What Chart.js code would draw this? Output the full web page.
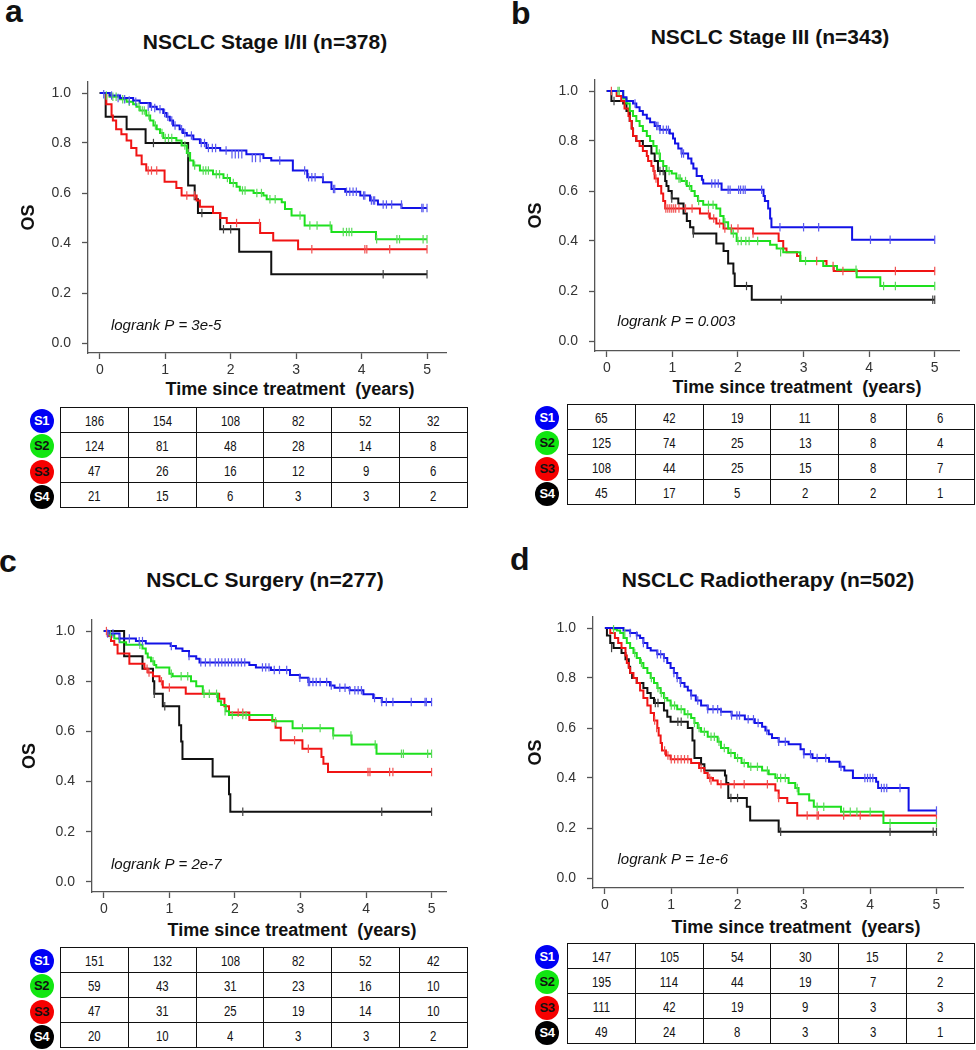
<!DOCTYPE html>
<html>
<head>
<meta charset="utf-8">
<script src="https://cdn.jsdelivr.net/npm/chart.js@4/dist/chart.umd.min.js"></script>
<style>
body { margin: 0; background: #fff; }
#page { position: relative; width: 976px; height: 1050px; overflow: hidden; font-family: Arial, "Liberation Sans", sans-serif; color: #111; }
.abs { position: absolute; white-space: nowrap; }
.letter { font-size: 32px; font-weight: bold; line-height: 32px; }
.ptitle { font-size: 21px; font-weight: bold; line-height: 24px; width: 400px; text-align: center; }
.xtitle { font-size: 18px; font-weight: bold; line-height: 22px; width: 400px; text-align: center; }
canvas { position: absolute; }
table.risk { position: absolute; border-collapse: collapse; table-layout: fixed; width: 408px; }
table.risk td { border: 1.5px solid #111; height: 24px; padding: 0; text-align: center; font-family: Arial, "Liberation Sans", sans-serif; font-size: 15px; color: #111; }
table.risk td span { display: inline-block; transform: scaleX(0.76); }
.badge { position: absolute; width: 24px; height: 24px; border-radius: 50%; font-weight: bold; font-size: 13px; line-height: 24px; text-align: center; letter-spacing: -0.5px; }
</style>
</head>
<body>
<div id="page"></div>
<script>
const FONT = 'Arial, "Liberation Sans", sans-serif';

// groups
const groupNames = ['S1', 'S2', 'S3', 'S4'];
const lineColors = ['#1212e6', '#1ee01e', '#f01414', '#111111'];
const tickColors = ['#5a5aee', '#5ad85a', '#f05050', '#444444'];
const badgeColors = ['#0000f5', '#11e611', '#f50000', '#000000'];
const badgeText = ['#fff', '#111', '#111', '#fff'];
const xTickVals = [0, 1, 2, 3, 4, 5];
const yTickVals = [0, 0.2, 0.4, 0.6, 0.8, 1.0];
const xTitle = 'Time since treatment  (years)';

// ---- panel a: Stage I/II
const aTitle = 'NSCLC Stage I/II (n=378)';
const aP = 'logrank P = 3e-5';
const aS1 = [[0,1],[0.15,0.99],[0.31,0.98],[0.51,0.97],[0.61,0.96],[0.77,0.945],[0.87,0.935],[0.97,0.92],[1.02,0.905],[1.07,0.89],[1.12,0.87],[1.22,0.855],[1.27,0.84],[1.33,0.83],[1.43,0.815],[1.53,0.80],[1.63,0.78],[1.84,0.77],[2.24,0.755],[2.50,0.74],[2.62,0.73],[2.95,0.69],[3.17,0.663],[3.41,0.643],[3.54,0.616],[3.75,0.605],[3.98,0.59],[4.13,0.57],[4.25,0.554],[4.61,0.54],[5,0.54]];
const aS2 = [[0,1],[0.15,0.985],[0.31,0.975],[0.41,0.965],[0.51,0.955],[0.56,0.945],[0.61,0.93],[0.71,0.91],[0.77,0.89],[0.82,0.87],[0.87,0.855],[0.92,0.84],[0.97,0.82],[1.17,0.81],[1.25,0.79],[1.33,0.76],[1.38,0.73],[1.43,0.71],[1.53,0.69],[1.73,0.675],[1.89,0.66],[1.99,0.64],[2.09,0.625],[2.14,0.61],[2.35,0.60],[2.50,0.59],[2.55,0.575],[2.78,0.563],[2.83,0.536],[2.93,0.51],[3.13,0.47],[3.54,0.444],[4.22,0.415],[5,0.415]];
const aS3 = [[0,1],[0.10,0.955],[0.18,0.91],[0.20,0.89],[0.25,0.855],[0.33,0.835],[0.41,0.81],[0.48,0.78],[0.56,0.75],[0.64,0.715],[0.71,0.69],[0.99,0.645],[1.17,0.62],[1.25,0.59],[1.48,0.57],[1.53,0.545],[1.73,0.52],[1.84,0.50],[1.94,0.48],[2.45,0.44],[2.65,0.41],[3.03,0.375],[5,0.375]];
const aS4 = [[0,1],[0.09,0.905],[0.41,0.855],[0.70,0.80],[1.35,0.63],[1.45,0.575],[1.50,0.52],[1.84,0.455],[2.13,0.365],[2.62,0.275],[5,0.275]];
const aS1c = [[0.06,0.995],[0.18,0.99],[0.28,0.98],[0.38,0.975],[0.45,0.97],[0.55,0.965],[0.74,0.945],[0.79,0.945],[0.84,0.94],[0.92,0.935],[0.99,0.92],[1.04,0.905],[1.10,0.89],[1.15,0.87],[1.25,0.855],[1.30,0.84],[1.40,0.83],[1.55,0.80],[1.60,0.80],[1.66,0.78],[1.72,0.78],[1.77,0.78],[1.93,0.77],[2.02,0.755],[2.07,0.755],[2.12,0.755],[2.17,0.755],[2.33,0.74],[2.38,0.74],[2.45,0.74],[2.75,0.73],[3.13,0.69],[3.19,0.663],[3.24,0.663],[3.29,0.663],[3.41,0.663],[3.57,0.616],[3.59,0.616],[3.77,0.605],[3.82,0.605],[3.87,0.605],[3.92,0.605],[4.03,0.59],[4.05,0.59],[4.15,0.57],[4.18,0.57],[4.20,0.57],[4.33,0.554],[4.38,0.554],[4.46,0.554],[4.61,0.554],[4.92,0.54],[4.94,0.54],[5,0.54]];
const aS2c = [[0.10,0.99],[0.20,0.985],[0.25,0.985],[0.35,0.975],[0.45,0.965],[0.60,0.945],[0.65,0.93],[0.68,0.93],[0.75,0.91],[0.85,0.87],[0.95,0.84],[1.00,0.82],[1.05,0.82],[1.10,0.82],[1.30,0.79],[1.35,0.76],[1.45,0.71],[1.58,0.69],[1.62,0.69],[1.66,0.69],[1.78,0.675],[1.83,0.675],[1.95,0.66],[2.04,0.64],[2.18,0.61],[2.22,0.61],[2.40,0.60],[2.47,0.60],[2.60,0.575],[2.68,0.575],[3.06,0.51],[3.21,0.47],[3.32,0.47],[3.52,0.47],[3.72,0.444],[3.77,0.444],[3.81,0.444],[3.85,0.444],[4.23,0.415],[4.54,0.415],[4.58,0.415],[4.94,0.415],[5,0.415]];
const aS3c = [[0.74,0.69],[0.79,0.69],[0.87,0.69],[1.33,0.59],[1.45,0.59],[2.09,0.48],[2.44,0.48],[3.24,0.375],[4.05,0.375],[4.08,0.375],[4.43,0.375],[5,0.375]];
const aS4c = [[0.82,0.80],[1.56,0.52],[1.89,0.455],[2.00,0.455],[4.33,0.275],[5,0.275]];
const aRisk = [[186,154,108,82,52,32],[124,81,48,28,14,8],[47,26,16,12,9,6],[21,15,6,3,3,2]];

// ---- panel b: Stage III
const bTitle = 'NSCLC Stage III (n=343)';
const bP = 'logrank P = 0.003';
const bS1 = [[0,1],[0.25,0.975],[0.30,0.96],[0.40,0.95],[0.45,0.935],[0.50,0.92],[0.55,0.905],[0.61,0.89],[0.66,0.875],[0.73,0.86],[0.81,0.845],[0.96,0.83],[1.01,0.81],[1.04,0.79],[1.09,0.77],[1.14,0.75],[1.24,0.73],[1.29,0.71],[1.32,0.69],[1.37,0.66],[1.45,0.645],[1.47,0.63],[1.75,0.605],[2.39,0.58],[2.41,0.56],[2.46,0.53],[2.49,0.49],[2.51,0.455],[3.74,0.405],[5,0.405]];
const bS2 = [[0,1],[0.25,0.97],[0.30,0.95],[0.35,0.92],[0.40,0.90],[0.45,0.88],[0.50,0.86],[0.55,0.84],[0.61,0.82],[0.66,0.80],[0.71,0.78],[0.76,0.75],[0.81,0.72],[0.86,0.70],[0.91,0.68],[0.99,0.67],[1.06,0.65],[1.14,0.64],[1.22,0.62],[1.29,0.60],[1.34,0.58],[1.39,0.56],[1.47,0.545],[1.67,0.53],[1.73,0.50],[1.78,0.475],[1.85,0.45],[1.90,0.43],[1.98,0.40],[2.49,0.385],[2.59,0.37],[2.69,0.355],[2.95,0.32],[3.30,0.30],[3.51,0.285],[3.81,0.255],[4.17,0.22],[5,0.22]];
const bS3 = [[0,1],[0.15,0.98],[0.22,0.96],[0.27,0.93],[0.33,0.90],[0.35,0.88],[0.38,0.85],[0.40,0.82],[0.45,0.80],[0.50,0.78],[0.55,0.76],[0.61,0.74],[0.63,0.72],[0.68,0.70],[0.71,0.68],[0.73,0.65],[0.78,0.62],[0.83,0.59],[0.86,0.56],[0.89,0.53],[1.42,0.51],[1.57,0.49],[1.67,0.47],[1.78,0.45],[2.23,0.43],[2.62,0.40],[2.69,0.37],[2.74,0.355],[2.90,0.34],[2.95,0.32],[3.35,0.30],[3.46,0.28],[5,0.28]];
const bS4 = [[0,1],[0.07,0.96],[0.25,0.95],[0.30,0.92],[0.35,0.88],[0.38,0.85],[0.40,0.82],[0.45,0.80],[0.55,0.78],[0.68,0.75],[0.73,0.72],[0.78,0.68],[0.89,0.64],[0.91,0.62],[0.94,0.60],[0.99,0.57],[1.09,0.55],[1.17,0.51],[1.22,0.48],[1.27,0.455],[1.32,0.43],[1.67,0.39],[1.78,0.36],[1.85,0.31],[1.93,0.27],[1.95,0.22],[2.21,0.165],[5,0.165]];
const bS1c = [[0.43,0.95],[0.76,0.86],[0.78,0.86],[0.81,0.845],[0.86,0.845],[0.91,0.845],[0.94,0.845],[1.14,0.75],[1.17,0.75],[1.60,0.63],[1.65,0.63],[1.70,0.63],[1.85,0.605],[1.88,0.605],[2.01,0.605],[2.04,0.605],[2.08,0.605],[2.11,0.605],[2.36,0.605],[2.64,0.455],[3.00,0.455],[3.23,0.455],[4.02,0.405],[4.32,0.405],[5,0.405]];
const bS2c = [[0.17,1.0],[0.19,1.0],[0.80,0.75],[0.95,0.68],[1.10,0.65],[1.12,0.65],[1.20,0.64],[1.26,0.62],[1.40,0.56],[1.55,0.545],[1.62,0.545],[1.80,0.475],[1.93,0.43],[2.00,0.40],[2.05,0.40],[2.12,0.40],[2.17,0.40],[2.30,0.40],[2.65,0.355],[3.03,0.32],[3.80,0.285],[4.22,0.22],[4.40,0.22],[5,0.22]];
const bS3c = [[0.07,1.0],[0.72,0.68],[0.75,0.65],[0.90,0.53],[0.93,0.53],[0.96,0.53],[0.99,0.53],[1.02,0.53],[1.05,0.53],[1.10,0.53],[1.20,0.53],[1.30,0.53],[1.55,0.51],[1.63,0.49],[1.72,0.47],[1.80,0.45],[1.90,0.45],[2.00,0.45],[2.23,0.43],[3.20,0.32],[3.45,0.30],[3.60,0.28],[4.40,0.28],[5,0.28]];
const bS4c = [[0.11,0.96],[0.81,0.68],[0.86,0.68],[0.99,0.57],[1.32,0.43],[2.13,0.22],[2.66,0.165],[4.97,0.165],[5,0.165]];
const bRisk = [[65,42,19,11,8,6],[125,74,25,13,8,4],[108,44,25,15,8,7],[45,17,5,2,2,1]];

// ---- panel c: Surgery
const cTitle = 'NSCLC Surgery (n=277)';
const cP = 'logrank P = 2e-7';
const cS1 = [[0,1],[0.09,0.99],[0.24,0.97],[0.49,0.96],[0.64,0.95],[1.02,0.94],[1.10,0.93],[1.20,0.92],[1.30,0.90],[1.41,0.89],[1.46,0.875],[2.22,0.865],[2.32,0.855],[2.55,0.845],[2.84,0.825],[2.99,0.814],[3.12,0.797],[3.45,0.783],[3.52,0.774],[3.75,0.764],[3.96,0.748],[4.11,0.733],[4.24,0.717],[5,0.717]];
const cS2 = [[0,1],[0.09,0.985],[0.16,0.97],[0.24,0.955],[0.34,0.945],[0.59,0.93],[0.64,0.91],[0.67,0.895],[0.72,0.88],[0.77,0.865],[0.80,0.855],[1.00,0.83],[1.05,0.82],[1.33,0.80],[1.41,0.78],[1.51,0.75],[1.74,0.72],[1.79,0.705],[1.86,0.68],[1.91,0.665],[2.57,0.64],[2.88,0.613],[3.50,0.584],[3.78,0.548],[4.16,0.511],[5,0.511]];
const cS3 = [[0,1],[0.06,0.98],[0.11,0.96],[0.16,0.945],[0.21,0.91],[0.39,0.87],[0.62,0.85],[0.67,0.835],[0.75,0.82],[0.85,0.80],[0.90,0.775],[1.25,0.75],[1.76,0.73],[1.84,0.70],[1.91,0.675],[2.22,0.645],[2.62,0.615],[2.70,0.565],[3.03,0.531],[3.32,0.498],[3.35,0.471],[3.42,0.438],[5,0.438]];
const cS4 = [[0,1],[0.31,0.90],[0.59,0.85],[0.75,0.80],[0.77,0.75],[0.90,0.70],[1.15,0.625],[1.18,0.56],[1.20,0.49],[1.66,0.42],[1.91,0.35],[1.93,0.28],[5,0.28]];
const cS1c = [[0.06,0.99],[0.14,0.99],[0.24,0.97],[0.39,0.97],[0.54,0.96],[0.59,0.96],[1.03,0.94],[1.30,0.90],[1.48,0.875],[1.55,0.875],[1.62,0.875],[1.70,0.875],[1.75,0.875],[1.80,0.875],[1.85,0.875],[1.90,0.875],[1.95,0.875],[2.00,0.875],[2.05,0.875],[2.10,0.875],[2.15,0.875],[2.42,0.855],[2.47,0.855],[2.52,0.855],[2.60,0.845],[2.68,0.845],[2.79,0.845],[2.99,0.814],[3.12,0.797],[3.14,0.797],[3.19,0.797],[3.24,0.797],[3.30,0.797],[3.40,0.797],[3.47,0.783],[3.60,0.774],[3.68,0.774],[3.75,0.764],[3.83,0.764],[3.88,0.764],[3.93,0.764],[4.13,0.733],[4.24,0.717],[4.31,0.717],[4.41,0.717],[4.69,0.717],[4.90,0.717],[4.92,0.717],[5,0.717]];
const cS2c = [[0.10,0.985],[0.55,0.945],[0.75,0.88],[1.03,0.83],[1.18,0.82],[1.28,0.82],[1.53,0.75],[1.61,0.75],[1.72,0.75],[1.85,0.68],[1.96,0.665],[2.12,0.665],[2.17,0.665],[2.62,0.64],[3.03,0.613],[3.30,0.613],[3.50,0.584],[3.77,0.584],[4.14,0.548],[4.54,0.511],[4.57,0.511],[4.94,0.511],[5,0.511]];
const cS3c = [[0.04,1.0],[0.66,0.85],[0.69,0.835],[0.88,0.80],[1.00,0.775],[2.05,0.675],[2.12,0.675],[2.91,0.565],[3.12,0.531],[4.03,0.438],[4.06,0.438],[4.36,0.438],[4.41,0.438],[5,0.438]];
const cS4c = [[0.77,0.75],[0.93,0.70],[2.12,0.28],[4.24,0.28],[5,0.28]];
const cRisk = [[151,132,108,82,52,42],[59,43,31,23,16,10],[47,31,25,19,14,10],[20,10,4,3,3,2]];

// ---- panel d: Radiotherapy
const dTitle = 'NSCLC Radiotherapy (n=502)';
const dP = 'logrank P = 1e-6';
const dS1 = [[0,1],[0.28,0.99],[0.38,0.98],[0.48,0.97],[0.53,0.96],[0.58,0.94],[0.64,0.92],[0.69,0.91],[0.79,0.895],[0.89,0.88],[0.94,0.86],[0.99,0.84],[1.04,0.82],[1.09,0.80],[1.14,0.78],[1.20,0.765],[1.25,0.75],[1.30,0.73],[1.37,0.71],[1.45,0.69],[1.55,0.675],[1.75,0.665],[1.91,0.65],[2.11,0.635],[2.26,0.62],[2.37,0.605],[2.42,0.59],[2.47,0.575],[2.52,0.56],[2.62,0.545],[2.77,0.535],[2.95,0.515],[3.00,0.495],[3.13,0.48],[3.38,0.465],[3.54,0.445],[3.61,0.43],[3.74,0.40],[4.09,0.385],[4.12,0.36],[4.58,0.27],[5,0.27]];
const dS2 = [[0,1],[0.13,0.995],[0.18,0.99],[0.23,0.98],[0.28,0.96],[0.33,0.94],[0.38,0.92],[0.43,0.90],[0.48,0.88],[0.53,0.86],[0.58,0.84],[0.64,0.82],[0.69,0.80],[0.74,0.78],[0.79,0.76],[0.84,0.74],[0.89,0.72],[0.94,0.71],[0.99,0.69],[1.09,0.675],[1.20,0.655],[1.30,0.64],[1.35,0.62],[1.40,0.60],[1.45,0.585],[1.55,0.565],[1.70,0.545],[1.75,0.52],[1.86,0.50],[1.96,0.48],[2.06,0.46],[2.16,0.445],[2.37,0.43],[2.47,0.415],[2.57,0.40],[2.77,0.38],[2.87,0.36],[2.92,0.335],[3.08,0.31],[3.15,0.285],[3.56,0.265],[4.20,0.22],[5,0.22]];
const dS3 = [[0,1],[0.08,0.98],[0.15,0.96],[0.20,0.94],[0.25,0.92],[0.31,0.89],[0.33,0.86],[0.36,0.84],[0.38,0.82],[0.43,0.80],[0.48,0.78],[0.53,0.75],[0.58,0.72],[0.64,0.69],[0.69,0.66],[0.74,0.63],[0.79,0.60],[0.81,0.57],[0.84,0.54],[0.86,0.51],[0.92,0.49],[0.99,0.475],[1.30,0.46],[1.42,0.44],[1.50,0.42],[1.55,0.40],[1.63,0.39],[1.70,0.375],[2.57,0.35],[2.62,0.32],[2.75,0.30],[2.90,0.25],[5,0.25]];
const dS4 = [[0,1],[0.03,0.97],[0.08,0.94],[0.13,0.92],[0.25,0.90],[0.31,0.875],[0.36,0.845],[0.38,0.82],[0.41,0.80],[0.48,0.78],[0.58,0.76],[0.64,0.74],[0.69,0.72],[0.74,0.70],[0.89,0.67],[0.94,0.645],[0.99,0.625],[1.25,0.60],[1.32,0.55],[1.35,0.48],[1.45,0.455],[1.50,0.43],[1.81,0.41],[1.83,0.38],[1.86,0.32],[2.14,0.285],[2.19,0.23],[2.62,0.185],[5,0.185]];
const dS1c = [[0.38,0.98],[0.48,0.97],[0.58,0.94],[0.79,0.895],[0.84,0.895],[0.89,0.88],[1.04,0.82],[1.09,0.80],[1.14,0.78],[1.30,0.73],[1.40,0.71],[1.55,0.675],[1.63,0.675],[1.70,0.675],[1.75,0.665],[1.91,0.65],[1.99,0.65],[2.03,0.65],[2.16,0.635],[2.24,0.635],[2.31,0.62],[2.44,0.59],[2.62,0.545],[2.72,0.545],[3.00,0.495],[3.10,0.495],[3.20,0.48],[3.33,0.48],[3.56,0.445],[3.92,0.40],[3.96,0.40],[4.00,0.40],[4.04,0.40],[4.17,0.36],[4.21,0.36],[4.25,0.36],[4.45,0.36],[5,0.27]];
const dS2c = [[0.13,0.995],[0.30,0.98],[0.45,0.90],[0.55,0.86],[0.70,0.80],[0.80,0.76],[0.85,0.74],[0.90,0.72],[1.00,0.69],[1.05,0.69],[1.15,0.675],[1.25,0.655],[1.35,0.62],[1.42,0.60],[1.50,0.585],[1.60,0.565],[1.65,0.565],[1.72,0.545],[1.80,0.52],[1.90,0.50],[2.00,0.48],[2.10,0.46],[2.20,0.445],[2.30,0.445],[2.45,0.43],[2.60,0.40],[2.65,0.40],[2.72,0.40],[2.90,0.36],[3.20,0.285],[3.30,0.285],[3.60,0.265],[3.70,0.265],[3.80,0.265],[4.00,0.265],[4.30,0.22],[5,0.22]];
const dS3c = [[0.75,0.63],[0.78,0.60],[0.90,0.51],[0.95,0.49],[1.00,0.475],[1.05,0.475],[1.10,0.475],[1.15,0.475],[1.20,0.475],[1.25,0.475],[1.45,0.44],[1.58,0.40],[1.60,0.39],[1.75,0.375],[1.95,0.375],[2.10,0.375],[2.45,0.375],[2.62,0.32],[3.05,0.25],[3.20,0.25],[3.22,0.25],[3.60,0.25],[3.85,0.25],[5,0.25]];
const dS4c = [[0.10,0.92],[0.76,0.70],[0.80,0.70],[1.10,0.625],[1.15,0.625],[1.90,0.32],[2.00,0.32],[2.65,0.185],[4.30,0.185],[4.95,0.185],[5,0.185]];
const dRisk = [[147,105,54,30,15,2],[195,114,44,19,7,2],[111,42,19,9,3,3],[49,24,8,3,3,1]];

// layout of the four panels (pixels)
const panels = [
  { letter: 'a', lpos: [5, -5], title: aTitle, tc: [265, 30], pval: aP, pAt: [0.17, 0.068],
    curves: [aS1, aS2, aS3, aS4], cens: [aS1c, aS2c, aS3c, aS4c], risk: aRisk,
    cpos: [0, 70], yW: 88, padR: 42, xH: 37, xMax: 5.29, osPad: 18, xt: [290, 378], table: [60, 407], bx: 41.5 },
  { letter: 'b', lpos: [511, -3], title: bTitle, tc: [770, 25], pval: bP, pAt: [0.16, 0.076],
    curves: [bS1, bS2, bS3, bS4], cens: [bS1c, bS2c, bS3c, bS4c], risk: bRisk,
    cpos: [488, 68], yW: 107, padR: 17, xH: 37, xMax: 5.37, osPad: 37, xt: [797, 376], table: [567, 404], bx: 547 },
  { letter: 'c', lpos: [-1, 545], title: cTitle, tc: [265, 568], pval: cP, pAt: [0.11, 0.068],
    curves: [cS1, cS2, cS3, cS4], cens: [cS1c, cS2c, cS3c, cS4c], risk: cRisk,
    cpos: [0, 608], yW: 92, padR: 42, xH: 36, xMax: 5.22, osPad: 19, xt: [292, 919], table: [60, 947], bx: 41.5 },
  { letter: 'd', lpos: [510, 543], title: dTitle, tc: [768, 568], pval: dP, pAt: [0.19, 0.072],
    curves: [dS1, dS2, dS3, dS4], cens: [dS1c, dS2c, dS3c, dS4c], risk: dRisk,
    cpos: [488, 605], yW: 105, padR: 13, xH: 37, xMax: 5.4, osPad: 37, xt: [796, 916], table: [567, 943], bx: 547 }
];

const page = document.getElementById('page');

// logrank text inside the plot, placed in data units
const pvalPlugin = {
  id: 'pval',
  afterDatasetsDraw(chart, args, opts) {
    const { ctx, scales } = chart;
    ctx.save();
    ctx.font = 'italic 15px ' + FONT;
    ctx.fillStyle = '#111';
    ctx.textBaseline = 'middle';
    ctx.fillText(opts.text, scales.x.getPixelForValue(opts.at[0]), scales.y.getPixelForValue(opts.at[1]));
    ctx.restore();
  }
};

function addText(cls, txt, left, top) {
  const el = document.createElement('div');
  el.className = 'abs ' + cls;
  el.textContent = txt;
  el.style.left = left + 'px';
  el.style.top = top + 'px';
  page.appendChild(el);
  return el;
}

panels.forEach(p => {
  addText('letter', p.letter, p.lpos[0], p.lpos[1]);
  addText('ptitle', p.title, p.tc[0] - 200, p.tc[1]);
  addText('xtitle', xTitle, p.xt[0] - 200, p.xt[1]).style.whiteSpace = 'pre';

  const cv = document.createElement('canvas');
  cv.width = 488; cv.height = 320;
  cv.style.left = p.cpos[0] + 'px';
  cv.style.top = p.cpos[1] + 'px';
  page.appendChild(cv);

  const datasets = [];
  p.curves.forEach((c, i) => datasets.push({
    data: c.map(d => ({ x: d[0], y: d[1] })),
    borderColor: lineColors[i], borderWidth: 2, stepped: true,
    pointRadius: 0, fill: false, order: 10 + i
  }));
  p.cens.forEach((c, i) => datasets.push({
    data: c.map(d => ({ x: d[0], y: d[1] })),
    showLine: false, pointStyle: 'line', pointRotation: 90, pointRadius: 4.2,
    pointBorderColor: tickColors[i], pointBorderWidth: 1.2, borderColor: tickColors[i], order: i
  }));

  const gridOpts = { drawOnChartArea: false, drawTicks: true, tickLength: 6, tickColor: '#555', tickWidth: 1.3 };
  const borderOpts = { display: true, color: '#555', width: 1.3 };

  new Chart(cv, {
    type: 'line',
    data: { datasets },
    options: {
      responsive: false,
      animation: false,
      layout: { padding: { top: 12, right: p.padR, left: 0, bottom: 0 } },
      plugins: { legend: { display: false }, tooltip: { enabled: false }, pval: { text: p.pval, at: p.pAt } },
      scales: {
        x: {
          type: 'linear', min: -0.18, max: p.xMax,
          afterBuildTicks: s => { s.ticks = xTickVals.map(v => ({ value: v })); },
          afterFit: s => { s.height = p.xH; s.paddingLeft = 0; s.paddingRight = 0; },
          ticks: { color: '#333', font: { family: FONT, size: 14 }, padding: 3, autoSkip: false, maxRotation: 0, callback: v => String(v) },
          grid: gridOpts, border: borderOpts
        },
        y: {
          min: -0.04, max: 1.044,
          afterBuildTicks: s => { s.ticks = yTickVals.map(v => ({ value: v })); },
          afterFit: s => { s.width = p.yW; s.paddingTop = 0; s.paddingBottom = 0; },
          ticks: { color: '#333', font: { family: FONT, size: 14 }, padding: 11, autoSkip: false, callback: v => v.toFixed(1) },
          title: { display: true, text: 'OS', color: '#111', font: { family: FONT, size: 18, weight: 'bold' }, padding: { top: p.osPad, bottom: 0 } },
          grid: gridOpts, border: borderOpts
        }
      }
    },
    plugins: [pvalPlugin]
  });

  // number-at-risk table with coloured group badges
  const t = document.createElement('table');
  t.className = 'risk';
  t.style.left = p.table[0] + 'px';
  t.style.top = p.table[1] + 'px';
  p.risk.forEach(row => {
    const tr = t.insertRow();
    row.forEach(v => {
      const s = document.createElement('span');
      s.textContent = v;
      tr.insertCell().appendChild(s);
    });
  });
  page.appendChild(t);
  p.risk.forEach((row, i) => {
    const b = document.createElement('div');
    b.className = 'badge';
    b.textContent = groupNames[i];
    b.style.background = badgeColors[i];
    b.style.color = badgeText[i];
    b.style.left = (p.bx - 12) + 'px';
    b.style.top = (p.table[1] + 0.75 + 25.5 * (i + 0.5) - 12) + 'px';
    page.appendChild(b);
  });
});
</script>
</body>
</html>
